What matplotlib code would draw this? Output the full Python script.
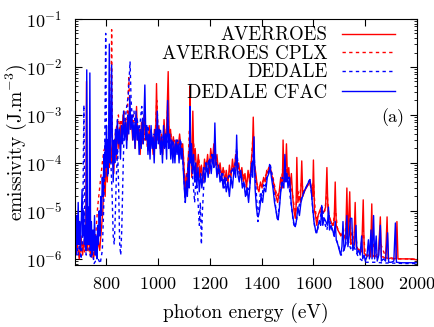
import numpy as np
import matplotlib
matplotlib.use('Agg')
import matplotlib.pyplot as plt
from matplotlib.ticker import LogLocator, FixedLocator, NullLocator

plt.rcParams['font.family'] = 'serif'
plt.rcParams['font.serif'] = ['cmr10']
plt.rcParams['mathtext.fontset'] = 'cm'
plt.rcParams['axes.formatter.use_mathtext'] = True
plt.rcParams['font.size'] = 13

# AVERROES (red solid)
av_e = [680, 682, 684, 690, 697, 704, 710, 716, 722, 725, 728, 734, 740, 746, 752, 758, 764, 770, 776, 782,
        788, 793, 797, 801, 805, 809, 813, 818, 822, 826, 830, 835, 840, 845, 850, 855, 860, 866, 870, 876,
        882, 888, 893, 898, 903, 908, 913, 918, 922, 927, 932, 937, 942, 947, 952, 957, 962, 967, 972, 977,
        982, 987, 991, 995, 999, 1004, 1009, 1014, 1019, 1024, 1029, 1034, 1040, 1044, 1049, 1054, 1060, 1066,
        1072, 1078, 1084, 1090, 1096, 1101, 1106, 1110, 1114, 1118, 1121, 1124, 1127, 1131, 1135, 1139, 1144,
        1150, 1156, 1162, 1168, 1174, 1180, 1186, 1192, 1198, 1204, 1210, 1216, 1222, 1228, 1234, 1240, 1246,
        1252, 1258, 1264, 1270, 1276, 1282, 1288, 1294, 1300, 1306, 1312, 1318, 1324, 1330, 1336, 1342, 1348,
        1354, 1360, 1365, 1368, 1372, 1378, 1384, 1390, 1396, 1402, 1408, 1414, 1420, 1426, 1432, 1438, 1444,
        1450, 1456, 1462, 1468, 1474, 1480, 1483, 1487, 1492, 1496, 1500, 1505, 1510, 1515, 1520, 1525, 1530,
        1533, 1536, 1540, 1545, 1550, 1555, 1559, 1565, 1572, 1580, 1587, 1593, 1597, 1600, 1604, 1608, 1613,
        1618, 1624, 1630, 1636, 1642, 1647, 1652, 1656, 1662, 1668, 1674, 1680, 1684, 1688, 1694, 1700, 1706,
        1712, 1718, 1724, 1729, 1733, 1740, 1744, 1750, 1756, 1761, 1765, 1772, 1780, 1786, 1792, 1796, 1804,
        1812, 1820, 1825, 1829, 1836, 1842, 1850, 1858, 1862, 1870, 1878, 1884, 1888, 1900, 1918, 1922, 1926,
        1950, 1980, 2000]
av_v = [1.5e-6, 1.0e-5, 1.2e-6, 2.0e-6, 1.0e-6, 3.0e-6, 1.2e-6, 2.5e-6, 1.5e-6, 5.0e-3, 1.5e-6, 3.0e-6,
        1.2e-6, 2.0e-6, 1.0e-6, 1.8e-6, 1.1e-6, 2.5e-6, 1.5e-6, 4.0e-6, 1.0e-5, 6.0e-5, 2.0e-5, 1.5e-4,
        4.0e-5, 2.0e-4, 8.0e-5, 3.0e-4, 1.0e-4, 2.5e-4, 6.0e-5, 3.0e-4, 1.2e-4, 5.0e-4, 2.0e-4, 6.0e-4,
        2.5e-4, 1.0e-3, 4.0e-4, 8.0e-4, 3.0e-4, 1.2e-3, 5.0e-4, 9.0e-4, 3.0e-4, 6.0e-4, 2.0e-4, 1.5e-3,
        3.0e-4, 5.0e-4, 1.5e-4, 7.0e-4, 2.5e-4, 1.0e-3, 3.0e-4, 4.0e-4, 1.8e-4, 6.0e-4, 2.2e-4, 3.5e-4,
        1.5e-4, 5.0e-4, 2.0e-4, 4.5e-3, 3.0e-4, 6.0e-4, 2.0e-4, 4.0e-4, 1.5e-4, 8.0e-4, 2.5e-4, 5.0e-4,
        8.0e-3, 3.0e-4, 5.0e-4, 2.0e-4, 3.5e-4, 1.5e-4, 3.0e-4, 2.0e-4, 4.0e-4, 1.8e-4, 2.5e-4, 8.0e-5,
        2.0e-5, 6.0e-5, 2.5e-5, 1.5e-4, 4.0e-5, 4.0e-3, 2.0e-4, 5.0e-5, 1.2e-3, 1.0e-4, 2.0e-4, 6.0e-5,
        1.5e-4, 5.0e-5, 9.0e-5, 4.0e-5, 1.2e-4, 7.0e-5, 1.5e-4, 6.0e-5, 2.0e-4, 1.0e-4, 2.5e-4, 9.0e-5,
        1.5e-4, 6.0e-5, 1.0e-4, 5.0e-5, 8.0e-5, 4.0e-5, 7.0e-5, 3.5e-5, 9.0e-5, 5.0e-5, 1.2e-4, 6.0e-5,
        1.5e-4, 7.0e-5, 1.0e-4, 5.0e-5, 8.0e-5, 4.0e-5, 6.0e-5, 3.0e-5, 7.0e-5, 4.0e-5, 1.0e-4, 2.0e-4,
        9.0e-4, 1.0e-4, 6.0e-5, 3.0e-5, 2.5e-5, 4.0e-5, 3.0e-5, 5.0e-5, 4.0e-5, 7.0e-5, 6.0e-5, 9.0e-5,
        6.0e-5, 4.5e-5, 3.0e-5, 2.0e-5, 1.5e-5, 2.5e-5, 5.0e-5, 3.0e-5, 3.0e-4, 4.0e-5, 6.0e-5, 2.5e-4,
        5.0e-5, 8.0e-5, 3.0e-5, 6.0e-5, 2.0e-5, 1.0e-5, 7.0e-6, 1.2e-5, 1.3e-4, 1.5e-5, 2.0e-5, 1.5e-5,
        1.1e-4, 2.0e-5, 2.5e-5, 3.0e-5, 3.5e-5, 4.0e-5, 3.0e-5, 2.0e-5, 1.15e-4, 1.0e-5, 8.0e-6, 5.0e-6,
        8.0e-6, 1.0e-5, 1.2e-5, 9.0e-6, 1.0e-5, 1.2e-5, 8.0e-5, 1.0e-5, 7.0e-6, 6.0e-6, 5.0e-6, 6.0e-6,
        4.0e-5, 5.0e-6, 4.0e-6, 3.5e-6, 3.0e-6, 3.5e-6, 3.0e-6, 2.5e-6, 3.0e-5, 2.5e-6, 2.5e-5, 2.0e-6,
        2.2e-6, 2.0e-6, 1.5e-5, 1.8e-6, 1.6e-6, 1.5e-6, 1.4e-6, 1.7e-5, 1.3e-6, 1.2e-6, 1.2e-6, 1.1e-6,
        1.4e-5, 1.1e-6, 1.2e-6, 1.1e-6, 1.1e-6, 7.5e-6, 1.1e-6, 1.1e-6, 1.0e-6, 7.5e-6, 1.0e-6, 1.05e-6,
        1.0e-6, 6.0e-6, 1.0e-6, 1.0e-6, 1.0e-6, 9.5e-7]

# AVERROES CPLX (red dashed)
cplx_e = [680, 690, 700, 710, 720, 730, 740, 750, 756, 762, 768, 774, 780, 786, 792, 798, 803, 808, 813, 818,
          822, 825, 830, 836, 842, 848, 852, 858, 864, 870, 876, 882, 888, 894, 900, 906, 912, 918, 924, 930,
          936, 942, 948, 954, 960, 966, 972, 978, 984, 990, 996, 1002, 1008, 1014, 1020, 1026, 1032, 1038,
          1044, 1050, 1056, 1062, 1068, 1074, 1080, 1086, 1092, 1098, 1104, 1110, 1116, 1122, 1126, 1132,
          1138, 1144, 1150, 1158, 1166, 1174, 1182, 1190, 1198, 1206, 1214, 1222, 1230, 1238, 1246, 1254,
          1262, 1270, 1278, 1286, 1294, 1302, 1310, 1318, 1326, 1334, 1342, 1350, 1358, 1366, 1372, 1380,
          1388, 1396, 1404, 1412, 1420, 1428, 1436, 1444, 1452, 1460, 1468, 1476, 1484, 1490, 1496, 1502,
          1510, 1518, 1526, 1532, 1538, 1546, 1554, 1562, 1570, 1578, 1586, 1594, 1600, 1606, 1612, 1620,
          1628, 1636, 1644, 1652, 1660, 1668, 1676, 1684, 1692, 1700, 1710, 1720, 1730, 1740, 1750, 1760,
          1770, 1780, 1792, 1800, 1815, 1825, 1840, 1860, 1880, 1900, 1950, 2000]
cplx_v = [1.2e-6, 1.5e-6, 1.2e-6, 2.0e-6, 1.3e-6, 1.8e-6, 1.2e-6, 1.0e-6, 1.5e-6, 4.0e-6, 1.2e-5, 2.5e-5,
          5.0e-5, 1.0e-4, 1.8e-4, 2.2e-4, 2.6e-4, 1.2e-4, 1.5e-4, 3.0e-4, 6.0e-2, 3.0e-4, 2.0e-4, 4.0e-4,
          6.0e-4, 1.0e-3, 5.0e-4, 8.0e-4, 5.0e-4, 1.2e-3, 6.0e-4, 9.0e-4, 6.0e-3, 9.0e-4, 6.0e-4, 1.0e-3,
          4.0e-4, 7.0e-4, 3.0e-4, 5.0e-4, 2.5e-4, 6.0e-4, 3.0e-4, 5.0e-4, 2.0e-4, 4.0e-4, 2.5e-4, 3.0e-4,
          1.8e-4, 4.0e-4, 2.0e-3, 4.0e-4, 2.5e-4, 3.5e-4, 2.0e-4, 5.0e-4, 3.0e-4, 1.5e-3, 3.0e-4, 4.0e-4,
          2.5e-4, 3.0e-4, 2.0e-4, 2.5e-4, 3.0e-4, 2.2e-4, 2.5e-4, 1.5e-4, 5.0e-5, 3.0e-5, 8.0e-5, 5.0e-4,
          1.5e-4, 8.0e-5, 2.5e-4, 1.2e-4, 8.0e-5, 1.2e-4, 6.0e-5, 5.0e-5, 9.0e-5, 1.1e-4, 8.0e-5, 1.5e-4,
          1.2e-4, 1.4e-4, 9.0e-5, 8.0e-5, 6.0e-5, 7.0e-5, 5.0e-5, 4.5e-5, 6.0e-5, 7.0e-5, 8.0e-5, 1.0e-4,
          8.0e-5, 6.0e-5, 6.5e-5, 5.0e-5, 4.0e-5, 5.0e-5, 7.0e-5, 3.0e-4, 8.0e-5, 4.0e-5, 3.0e-5, 3.5e-5,
          4.0e-5, 5.0e-5, 6.0e-5, 8.0e-5, 7.0e-5, 5.0e-5, 3.0e-5, 2.0e-5, 2.5e-5, 4.0e-5, 1.0e-4, 5.0e-5,
          8.0e-5, 5.0e-5, 4.0e-5, 2.5e-5, 1.2e-5, 9.0e-6, 3.0e-5, 1.8e-5, 4.0e-5, 2.5e-5, 3.0e-5, 3.5e-5,
          3.8e-5, 2.5e-5, 4.0e-5, 1.2e-5, 7.0e-6, 8.0e-6, 1.0e-5, 9.0e-6, 1.0e-5, 2.5e-5, 8.0e-6, 6.0e-6,
          5.0e-6, 1.2e-5, 4.5e-6, 3.5e-6, 3.0e-6, 2.8e-6, 8.0e-6, 6.0e-6, 2.2e-6, 4.0e-6, 1.6e-6, 1.4e-6,
          4.0e-6, 1.2e-6, 1.1e-6, 3.0e-6, 1.1e-6, 2.0e-6, 1.05e-6, 1.0e-6, 1.0e-6, 9.8e-7]

# DEDALE (blue dashed)
ded_e = [680, 686, 692, 698, 704, 710, 715, 719, 724, 730, 736, 742, 748, 754, 760, 770, 778, 786, 791, 795,
         799, 802, 806, 812, 818, 824, 828, 832, 836, 840, 845, 849, 853, 857, 861, 865, 869, 874, 880, 886,
         893, 897, 902, 908, 914, 920, 926, 932, 938, 944, 950, 956, 962, 968, 974, 980, 986, 992, 998, 1004,
         1010, 1016, 1022, 1028, 1034, 1040, 1046, 1052, 1058, 1064, 1070, 1076, 1082, 1088, 1094, 1100, 1106,
         1112, 1118, 1124, 1130, 1136, 1142, 1148, 1154, 1160, 1164, 1168, 1172, 1178, 1184, 1190, 1196, 1202,
         1208, 1214, 1220, 1226, 1232, 1238, 1244, 1250, 1256, 1262, 1268, 1274, 1280, 1286, 1292, 1298, 1304,
         1310, 1316, 1322, 1328, 1334, 1340, 1346, 1352, 1358, 1364, 1370, 1376, 1382, 1386, 1390, 1396, 1402,
         1408, 1414, 1420, 1426, 1432, 1438, 1444, 1450, 1456, 1462, 1468, 1474, 1480, 1486, 1492, 1498, 1504,
         1510, 1516, 1522, 1528, 1534, 1540, 1548, 1556, 1564, 1572, 1580, 1586, 1592, 1598, 1604, 1610, 1616,
         1622, 1628, 1634, 1640, 1646, 1652, 1660, 1666, 1672, 1680, 1688, 1696, 1702, 1708, 1716, 1724, 1730,
         1738, 1746, 1754, 1762, 1770, 1780, 1790, 1800, 1820, 1840, 1870, 1900, 1950, 2000]
ded_v = [1.5e-6, 3.0e-6, 1.2e-6, 2.0e-6, 1.0e-6, 2.5e-6, 1.6e-3, 2.0e-6, 1.2e-6, 3.0e-6, 1.5e-6, 1.0e-6,
         1.5e-6, 8.0e-7, 9.0e-7, 1.0e-6, 8.0e-7, 1.5e-6, 1.0e-5, 1.0e-4, 5.0e-2, 3.0e-4, 5.0e-5, 6.0e-4,
         1.5e-4, 2.0e-5, 3.0e-6, 2.0e-6, 8.0e-6, 5.0e-5, 2.0e-4, 3.0e-5, 2.0e-6, 1.2e-6, 4.0e-6, 4.0e-5,
         3.0e-4, 8.0e-4, 1.5e-3, 2.5e-3, 1.3e-2, 2.0e-3, 8.0e-4, 1.2e-3, 5.0e-4, 9.0e-4, 4.0e-4, 7.0e-4,
         1.5e-3, 5.0e-4, 8.0e-4, 4.0e-4, 6.0e-4, 3.0e-4, 5.0e-4, 2.5e-4, 4.0e-4, 3.0e-4, 5.0e-4, 3.0e-4,
         5.0e-4, 2.5e-4, 4.0e-4, 2.0e-4, 3.0e-4, 2.5e-4, 3.5e-4, 2.0e-4, 3.0e-4, 1.5e-4, 2.5e-4, 3.0e-4,
         2.0e-4, 3.0e-4, 1.5e-4, 6.0e-5, 1.5e-5, 5.0e-5, 1.0e-4, 3.0e-4, 1.0e-4, 4.0e-5, 1.5e-5, 6.0e-5,
         2.0e-5, 5.0e-6, 1.5e-5, 2.0e-6, 1.0e-5, 4.0e-5, 1.0e-4, 6.0e-5, 1.2e-4, 8.0e-5, 1.5e-4, 1.0e-4,
         1.8e-4, 1.0e-4, 6.0e-5, 8.0e-5, 4.0e-5, 6.0e-5, 3.0e-5, 5.0e-5, 3.5e-5, 6.0e-5, 5.0e-5, 8.0e-5,
         6.0e-5, 1.0e-4, 2.0e-4, 8.0e-5, 5.0e-5, 6.0e-5, 3.0e-5, 4.0e-5, 2.0e-5, 3.0e-5, 2.5e-5, 5.0e-5,
         8.0e-5, 2.0e-4, 5.0e-5, 1.5e-5, 6.0e-6, 1.2e-5, 2.5e-5, 2.0e-5, 3.5e-5, 3.0e-5, 5.0e-5, 6.0e-5,
         1.0e-4, 7.0e-5, 4.0e-5, 2.0e-5, 1.0e-5, 7.0e-6, 1.2e-5, 3.0e-5, 5.0e-5, 4.0e-5, 7.0e-5, 4.0e-5,
         5.0e-5, 2.0e-5, 1.2e-5, 6.0e-6, 4.5e-6, 6.0e-6, 1.0e-5, 1.5e-5, 2.0e-5, 2.5e-5, 3.0e-5, 4.0e-5,
         4.5e-5, 2.5e-5, 1.0e-5, 5.0e-6, 3.5e-6, 4.0e-6, 6.0e-6, 8.0e-6, 1.2e-5, 7.0e-6, 5.0e-6, 4.0e-6,
         8.0e-6, 5.0e-6, 4.0e-6, 3.0e-6, 2.5e-6, 2.0e-6, 1.4e-6, 1.2e-6, 1.5e-6, 2.0e-6, 3.0e-6, 2.0e-6,
         1.5e-6, 2.0e-6, 1.5e-6, 1.2e-6, 1.0e-6, 9.0e-7, 8.5e-7, 8.5e-7, 8.5e-7, 8.2e-7, 8.2e-7, 8.0e-7,
         8.0e-7]

# DEDALE CFAC (blue solid)
cfac_e = [680, 682, 684, 687, 690, 693, 696, 699, 702, 708, 711, 714, 717, 720, 723, 726, 729, 732, 735, 738,
          741, 744, 747, 750, 753, 756, 759, 762, 765, 768, 771, 774, 777, 780, 783, 786, 789, 792, 795, 798,
          800, 802, 804, 806, 808, 810, 813, 816, 819, 822, 825, 828, 831, 834, 837, 840, 844, 848, 852, 856,
          860, 864, 868, 872, 876, 880, 884, 888, 892, 896, 900, 904, 908, 912, 916, 920, 924, 928, 932, 936,
          940, 944, 950, 954, 958, 962, 966, 970, 974, 978, 982, 986, 990, 994, 998, 1002, 1006, 1010, 1014,
          1018, 1022, 1026, 1030, 1034, 1038, 1042, 1046, 1050, 1054, 1058, 1062, 1066, 1070, 1074, 1078, 1082,
          1086, 1090, 1094, 1098, 1102, 1106, 1110, 1114, 1118, 1121, 1124, 1127, 1130, 1134, 1138, 1142, 1146,
          1150, 1155, 1160, 1165, 1170, 1176, 1182, 1188, 1194, 1200, 1206, 1212, 1216, 1220, 1224, 1228, 1234,
          1240, 1246, 1252, 1258, 1264, 1270, 1276, 1282, 1288, 1294, 1300, 1304, 1308, 1314, 1320, 1326, 1332,
          1338, 1344, 1350, 1356, 1362, 1366, 1371, 1375, 1380, 1384, 1387, 1392, 1398, 1404, 1410, 1416, 1422,
          1428, 1433, 1438, 1444, 1450, 1456, 1460, 1464, 1468, 1474, 1480, 1486, 1490, 1494, 1498, 1502, 1508,
          1514, 1520, 1526, 1530, 1534, 1540, 1546, 1552, 1558, 1564, 1570, 1576, 1582, 1587, 1592, 1597, 1602,
          1608, 1613, 1618, 1624, 1628, 1632, 1636, 1642, 1648, 1654, 1658, 1662, 1668, 1674, 1680, 1684, 1688,
          1694, 1700, 1705, 1710, 1714, 1718, 1724, 1729, 1733, 1738, 1742, 1748, 1752, 1758, 1764, 1768, 1774,
          1780, 1786, 1790, 1796, 1800, 1806, 1812, 1816, 1822, 1826, 1832, 1836, 1842, 1846, 1852, 1858, 1862,
          1870, 1878, 1886, 1890, 1900, 1910, 1916, 1920, 1940, 1970, 2000]
cfac_v = [1.0e-6, 5.0e-6, 1.2e-6, 8.0e-6, 2.0e-6, 1.5e-5, 2.0e-6, 6.0e-6, 1.5e-6, 2.8e-5, 3.0e-6, 1.0e-5,
          2.0e-6, 5.0e-6, 1.5e-6, 8.7e-3, 2.0e-6, 1.2e-5, 2.0e-6, 7.5e-3, 1.5e-6, 6.0e-6, 1.2e-6, 4.0e-6,
          1.5e-6, 8.0e-6, 1.2e-6, 3.0e-6, 1.0e-6, 5.0e-6, 2.0e-6, 1.0e-5, 3.0e-6, 2.0e-5, 8.0e-6, 5.0e-5,
          2.0e-5, 1.5e-4, 5.0e-5, 3.0e-4, 8.0e-5, 6.0e-4, 1.5e-4, 3.0e-4, 6.0e-5, 2.0e-4, 3.0e-2, 1.0e-4,
          4.0e-4, 1.1e-2, 2.0e-4, 4.0e-5, 3.0e-4, 1.0e-4, 5.0e-4, 1.5e-4, 8.0e-4, 2.5e-4, 5.0e-4, 1.2e-4,
          6.0e-4, 2.5e-4, 1.2e-3, 3.0e-4, 7.0e-4, 2.0e-4, 1.0e-3, 4.0e-4, 2.5e-3, 5.0e-4, 1.0e-3, 3.0e-4,
          7.0e-4, 2.0e-4, 1.2e-3, 3.0e-4, 6.0e-4, 1.5e-4, 5.0e-4, 2.0e-4, 8.0e-4, 2.5e-4, 4.2e-3, 3.0e-4,
          6.0e-4, 1.5e-4, 4.0e-4, 1.2e-4, 6.0e-4, 2.0e-4, 3.5e-4, 1.0e-4, 5.0e-4, 2.0e-4, 1.2e-3, 2.5e-4,
          5.0e-4, 1.5e-4, 3.0e-4, 1.0e-4, 6.0e-4, 2.0e-4, 4.0e-4, 1.2e-4, 2.0e-3, 2.0e-4, 4.0e-4, 1.2e-4,
          3.0e-4, 1.0e-4, 2.5e-4, 1.0e-4, 3.0e-4, 1.5e-4, 2.5e-4, 1.0e-4, 3.0e-4, 1.2e-4, 2.0e-4, 8.0e-5,
          3.0e-5, 1.5e-5, 4.0e-5, 2.0e-5, 1.0e-4, 3.0e-5, 1.5e-3, 1.0e-4, 2.5e-4, 6.0e-5, 1.5e-4, 4.0e-5,
          1.0e-4, 3.0e-5, 8.0e-5, 2.5e-5, 6.0e-5, 3.0e-5, 8.0e-5, 4.0e-5, 1.0e-4, 5.0e-5, 1.2e-4, 6.0e-5,
          1.5e-4, 8.0e-5, 6.8e-4, 1.0e-4, 5.0e-5, 9.0e-5, 4.0e-5, 6.0e-5, 3.0e-5, 5.0e-5, 2.5e-5, 4.0e-5,
          2.0e-5, 5.0e-5, 3.0e-5, 8.0e-5, 5.0e-5, 3.8e-4, 6.0e-5, 4.0e-5, 7.0e-5, 3.0e-5, 4.0e-5, 2.0e-5,
          3.0e-5, 1.5e-5, 4.0e-5, 1.0e-4, 5.0e-5, 3.5e-4, 3.0e-5, 1.2e-5, 8.0e-6, 7.5e-6, 1.0e-5, 2.0e-5,
          1.5e-5, 3.0e-5, 2.5e-5, 5.0e-5, 6.0e-5, 8.3e-5, 5.0e-5, 3.0e-5, 1.5e-5, 1.0e-5, 7.0e-6, 6.5e-6,
          1.0e-5, 2.5e-5, 4.0e-5, 3.0e-5, 1.5e-4, 4.0e-5, 6.0e-5, 3.0e-5, 5.0e-5, 1.5e-5, 8.0e-6, 5.0e-6,
          4.7e-6, 6.0e-6, 1.2e-5, 8.0e-6, 1.5e-5, 2.0e-5, 2.5e-5, 3.0e-5, 3.5e-5, 4.0e-5, 4.5e-5, 2.5e-5,
          1.2e-5, 6.0e-6, 4.0e-6, 3.5e-6, 5.0e-6, 6.0e-6, 5.0e-6, 1.3e-5, 5.0e-6, 7.0e-6, 6.0e-6, 5.0e-6,
          1.2e-5, 4.0e-6, 5.0e-6, 4.0e-6, 3.0e-6, 6.0e-6, 2.5e-6, 2.0e-6, 1.5e-6, 1.2e-6, 1.8e-6, 6.0e-6,
          1.5e-6, 2.0e-6, 8.0e-6, 1.8e-6, 3.0e-6, 7.0e-6, 7.0e-6, 1.5e-6, 2.0e-6, 5.0e-6, 1.3e-6, 1.5e-6,
          1.2e-6, 3.0e-6, 1.0e-6, 1.2e-6, 9.0e-7, 1.1e-6, 2.5e-6, 1.0e-6, 4.0e-6, 1.0e-6, 8.0e-6, 1.0e-6,
          3.0e-6, 9.0e-7, 1.2e-6, 5.0e-6, 9.0e-7, 1.0e-6, 9.0e-7, 3.5e-6, 8.5e-7, 8.5e-7, 9.0e-7, 5.6e-6,
          8.5e-7, 8.3e-7, 8.3e-7, 8.3e-7]

labels = ['AVERROES', 'AVERROES CPLX', 'DEDALE', 'DEDALE CFAC']
colors = ['#ff0000', '#ff0000', '#0000ff', '#0000ff']
styles = ['-', (0, (2.4, 2.4)), (0, (2.4, 2.4)), '-']

fig = plt.figure(figsize=(4.35, 3.27), dpi=100)
ax = fig.add_axes([0.172, 0.19, 0.787, 0.752])

series = [(av_e, av_v), (cplx_e, cplx_v), (ded_e, ded_v), (cfac_e, cfac_v)]
for (e, v), c, ls in zip(series, colors, styles):
    ax.plot(e, v, color=c, linestyle=ls, linewidth=1.0)

ax.set_yscale('log')
ax.set_xlim(680, 2000)
ax.set_ylim(7.5e-7, 1e-1)
ax.xaxis.set_major_locator(FixedLocator([800, 1000, 1200, 1400, 1600, 1800, 2000]))
ax.xaxis.set_minor_locator(NullLocator())
ax.yaxis.set_major_locator(LogLocator(base=10, numticks=10))
ax.yaxis.set_minor_locator(LogLocator(base=10, subs=np.arange(2, 10), numticks=10))
ax.tick_params(which='both', direction='in', top=True, right=True)
ax.tick_params(which='major', length=5, width=0.8)
ax.tick_params(which='minor', length=2.5, width=0.6)
ax.tick_params(axis='x', pad=8)
ax.tick_params(axis='y', pad=9)

ax.set_xlabel('photon energy (eV)', fontsize=14, labelpad=8)
ax.set_ylabel('emissivity (J.m$^{-3}$)', fontsize=14, labelpad=-2)

# gnuplot-style key: text right-aligned, sample to the right
key_line_y = [0.940, 0.865, 0.787, 0.709]
key_text_y = [0.916, 0.839, 0.763, 0.679]
for lab, c, ls, yl, yt in zip(labels, colors, styles, key_line_y, key_text_y):
    ax.text(0.738, yt, lab, transform=ax.transAxes, ha='right', va='baseline', fontsize=13.6)
    ax.plot([0.780, 0.934], [yl, yl], transform=ax.transAxes, color=c, linestyle=ls, linewidth=1.0)

ax.text(0.93, 0.598, '(a)', transform=ax.transAxes, ha='center', va='center', fontsize=13)

fig.savefig('out.png', dpi=100)
